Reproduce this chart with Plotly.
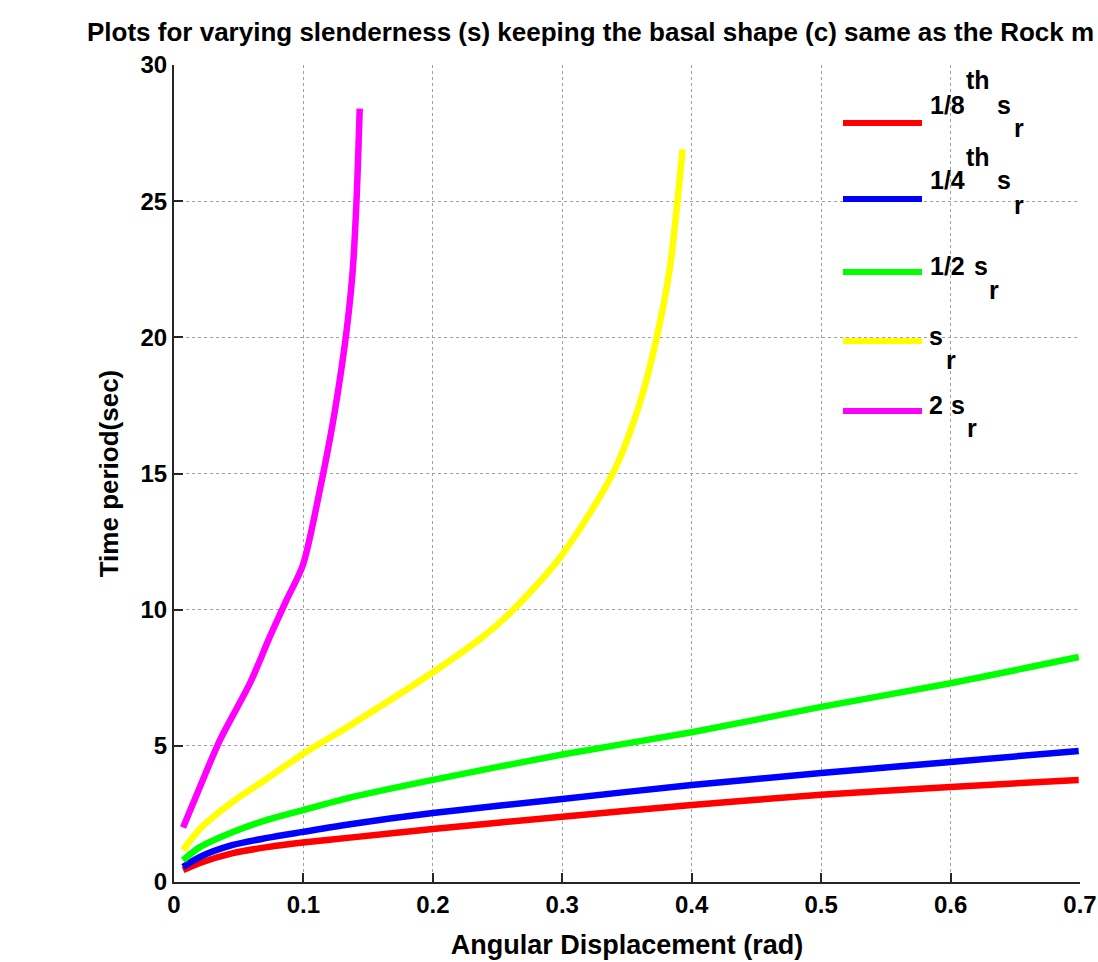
import plotly.graph_objects as go

# ---------------- data ----------------
x_low = [0.007, 0.02, 0.0455, 0.072, 0.0996, 0.136, 0.2, 0.3, 0.4, 0.5, 0.6, 0.699]
y_eighth = [0.44, 0.70, 1.06, 1.28, 1.45, 1.63, 1.95, 2.40, 2.83, 3.20, 3.49, 3.75]
y_quarter = [0.55, 0.92, 1.36, 1.62, 1.84, 2.12, 2.53, 3.05, 3.56, 4.00, 4.41, 4.81]
y_half = [0.80, 1.28, 1.84, 2.28, 2.64, 3.10, 3.75, 4.68, 5.50, 6.43, 7.30, 8.26]

x_one = [0.007, 0.02, 0.0455, 0.072, 0.0996, 0.136, 0.2, 0.2385, 0.259, 0.298, 0.339, 0.36, 0.373, 0.383, 0.389, 0.393]
y_one = [1.17, 1.95, 2.95, 3.80, 4.70, 5.75, 7.70, 9.00, 9.85, 11.9, 15.0, 17.6, 20.0, 22.5, 25.0, 26.9]

x_two = [0.007, 0.020, 0.0355, 0.0587, 0.074, 0.087, 0.0996, 0.1127, 0.1227, 0.130, 0.134, 0.138, 0.141, 0.1435]
y_two = [2.00, 3.49, 5.21, 7.30, 9.00, 10.36, 11.64, 14.4, 16.86, 19.06, 20.5, 22.4, 25.0, 28.4]

x_ticks = [0, 0.1, 0.2, 0.3, 0.4, 0.5, 0.6, 0.7]
x_ticklabels = ["0", "0.1", "0.2", "0.3", "0.4", "0.5", "0.6", "0.7"]
y_ticks = [0, 5, 10, 15, 20, 25, 30]
y_ticklabels = ["0", "5", "10", "15", "20", "25", "30"]

series = [
    (x_low, y_eighth, "#ff0000"),
    (x_low, y_quarter, "#0000ff"),
    (x_low, y_half, "#00ff00"),
    (x_one, y_one, "#ffff00"),
    (x_two, y_two, "#ff00ff"),
]

# ---------------- layout geometry ----------------
W, H = 1098, 962
L, R, T, B = 174, 18, 65, 80
PW, PH = W - L - R, H - T - B

def px(xp):
    return (xp - L) / PW

def py(yp):
    return (H - B - yp) / PH

FONT = "Liberation Sans, Arial, Helvetica, sans-serif"
AX = "#262626"

fig = go.Figure()
for xs, ys, c in series:
    fig.add_trace(go.Scatter(x=xs, y=ys, mode="lines",
                             line=dict(color=c, width=6.5, shape="spline", smoothing=0.8),
                             showlegend=False, hoverinfo="skip"))

shapes = []
annotations = []

# legend (manual, MATLAB style)
legend_y = [123, 199, 272, 341, 411]
for (xs, ys, c), ly in zip(series, legend_y):
    shapes.append(dict(type="line", xref="paper", yref="paper",
                       x0=px(843), x1=px(922), y0=py(ly), y1=py(ly),
                       line=dict(color=c, width=6)))

def txt(s, x, y, size=25):
    annotations.append(dict(text="<b>%s</b>" % s, xref="paper", yref="paper",
                            x=px(x), y=py(y), xanchor="left", yanchor="middle",
                            showarrow=False, borderpad=0,
                            font=dict(family=FONT, size=size, color="black")))

# entry 1: 1/8^th s_r
txt("1/8", 929, 105); txt("th", 965, 80); txt("s", 996, 105); txt("r", 1013, 128)
# entry 2: 1/4^th s_r
txt("1/4", 929, 180); txt("th", 965, 157); txt("s", 996, 180); txt("r", 1013, 205)
# entry 3: 1/2 s_r
txt("1/2", 929, 266); txt("s", 973, 266); txt("r", 988, 290)
# entry 4: s_r
txt("s", 928, 336); txt("r", 945, 360)
# entry 5: 2 s_r
txt("2", 928, 405); txt("s", 950, 405); txt("r", 966, 428)

# title (runs off the right edge, as in the reference)
annotations.append(dict(
    text="<b>Plots for varying slenderness (s) keeping the basal shape (c) same as the Rock m</b>",
    xref="paper", yref="paper", x=px(86), y=py(32), xanchor="left", yanchor="middle",
    showarrow=False, borderpad=0, font=dict(family=FONT, size=26, color="black")))

fig.update_layout(
    width=W, height=H,
    margin=dict(l=L, r=R, t=T, b=B, autoexpand=False),
    paper_bgcolor="white", plot_bgcolor="white",
    font=dict(family=FONT, size=24, color="black"),
    shapes=shapes, annotations=annotations,
    showlegend=False,
    xaxis=dict(range=[0, 0.7], tickvals=x_ticks, automargin=False,
               ticktext=["<b>%s</b>" % t for t in x_ticklabels],
               showgrid=True, gridcolor="#a0a0a0", griddash="dot", gridwidth=1,
               showline=True, linecolor=AX, linewidth=2,
               ticks="inside", ticklen=9, tickwidth=2, tickcolor=AX,
               zeroline=False, tickfont=dict(size=24, color="black"),
               title=dict(text="<b>Angular Displacement (rad)</b>",
                          font=dict(size=27, color="black"), standoff=18)),
    yaxis=dict(range=[0, 30], tickvals=y_ticks, automargin=False,
               ticktext=["<b>%s</b>" % t for t in y_ticklabels],
               showgrid=True, gridcolor="#a0a0a0", griddash="dot", gridwidth=1,
               showline=True, linecolor=AX, linewidth=2,
               ticks="inside", ticklen=9, tickwidth=2, tickcolor=AX,
               zeroline=False, tickfont=dict(size=24, color="black"),
               title=dict(text="<b>Time period(sec)</b>",
                          font=dict(size=26, color="black"), standoff=14)),
)

fig.write_html("out.html")
